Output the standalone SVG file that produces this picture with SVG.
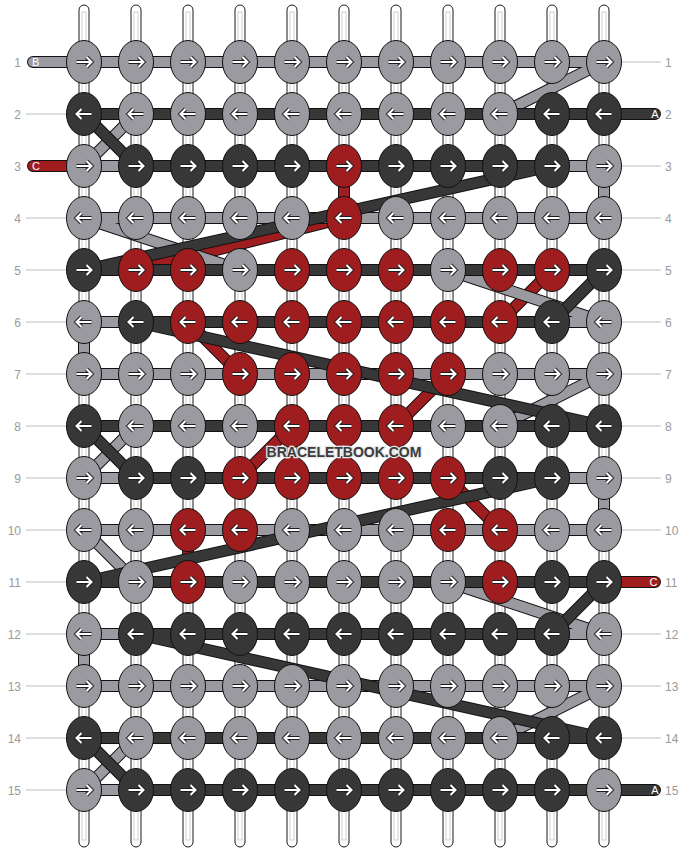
<svg xmlns="http://www.w3.org/2000/svg" xmlns:xlink="http://www.w3.org/1999/xlink" width="688" height="852" viewBox="0 0 688 852">
<style>
.s{fill:#fff;stroke:#1a1a1a;stroke-width:1}
.si{fill:#fff;stroke:#c4c4c4;stroke-width:0.8}
.o{fill:none;stroke:#111;stroke-width:12;stroke-linejoin:round;stroke-linecap:round}
.t{fill:none;stroke-width:10;stroke-linejoin:round;stroke-linecap:round}
.tA{stroke:#373737}.tB{stroke:#9b9aa0}.tC{stroke:#9f1c1f}
.kn{stroke:#111;stroke-width:1}
.L{fill:#9b9aa0}.D{fill:#373737}.X{fill:#9f1c1f}
.ao{fill:none;stroke:#1e1e1e;stroke-width:4;stroke-linejoin:miter}
.ai{fill:none;stroke:#fff;stroke-width:2.1;stroke-linejoin:miter}
.num{font-family:"Liberation Sans",Arial,sans-serif;font-size:12px;fill:#9a9a9a}
.ln{stroke:#bdbdbd;stroke-width:1}
.lab{font-family:"Liberation Sans",Arial,sans-serif;font-size:11px;fill:#fff}
.wm{font-family:"Liberation Sans",Arial,sans-serif;font-size:14px;font-weight:bold;fill:#3c3c3c;stroke:#e8e8e8;stroke-width:2.5;paint-order:stroke}
</style>
<defs>
<g id="ar"><path class="ao" d="M-7.5,0H7M2.5,-5L7.5,0L2.5,5"/><path class="ai" d="M-7.5,0H7M2.5,-5L7.5,0L2.5,5"/></g>
<g id="al"><path class="ao" d="M7.5,0H-7M-2.5,-5L-7.5,0L-2.5,5"/><path class="ai" d="M7.5,0H-7M-2.5,-5L-7.5,0L-2.5,5"/></g>
<g id="LR"><ellipse class="kn L" rx="17.5" ry="21.5"/><use href="#ar"/></g>
<g id="LL"><ellipse class="kn L" rx="17.5" ry="21.5"/><use href="#al"/></g>
<g id="DR"><ellipse class="kn D" rx="17.5" ry="21.5"/><use href="#ar"/></g>
<g id="DL"><ellipse class="kn D" rx="17.5" ry="21.5"/><use href="#al"/></g>
<g id="XR"><ellipse class="kn X" rx="17.5" ry="21.5"/><use href="#ar"/></g>
<g id="XL"><ellipse class="kn X" rx="17.5" ry="21.5"/><use href="#al"/></g>
</defs>
<rect width="688" height="852" fill="#fff"/>
<g id="strands">
<rect class="s" x="79" y="5" width="10" height="842" rx="5"/><rect class="si" x="82" y="12" width="4" height="828"/>
<rect class="s" x="131" y="5" width="10" height="842" rx="5"/><rect class="si" x="134" y="12" width="4" height="828"/>
<rect class="s" x="183" y="5" width="10" height="842" rx="5"/><rect class="si" x="186" y="12" width="4" height="828"/>
<rect class="s" x="235" y="5" width="10" height="842" rx="5"/><rect class="si" x="238" y="12" width="4" height="828"/>
<rect class="s" x="287" y="5" width="10" height="842" rx="5"/><rect class="si" x="290" y="12" width="4" height="828"/>
<rect class="s" x="339" y="5" width="10" height="842" rx="5"/><rect class="si" x="342" y="12" width="4" height="828"/>
<rect class="s" x="391" y="5" width="10" height="842" rx="5"/><rect class="si" x="394" y="12" width="4" height="828"/>
<rect class="s" x="443" y="5" width="10" height="842" rx="5"/><rect class="si" x="446" y="12" width="4" height="828"/>
<rect class="s" x="495" y="5" width="10" height="842" rx="5"/><rect class="si" x="498" y="12" width="4" height="828"/>
<rect class="s" x="547" y="5" width="10" height="842" rx="5"/><rect class="si" x="550" y="12" width="4" height="828"/>
<rect class="s" x="599" y="5" width="10" height="842" rx="5"/><rect class="si" x="602" y="12" width="4" height="828"/>
</g>
<g id="labels">
<g class="ln">
<line x1="26" y1="114" x2="67" y2="114"/><line x1="26" y1="218" x2="67" y2="218"/><line x1="26" y1="270" x2="67" y2="270"/><line x1="26" y1="322" x2="67" y2="322"/><line x1="26" y1="374" x2="67" y2="374"/><line x1="26" y1="426" x2="67" y2="426"/><line x1="26" y1="478" x2="67" y2="478"/><line x1="26" y1="530" x2="67" y2="530"/><line x1="26" y1="582" x2="67" y2="582"/><line x1="26" y1="634" x2="67" y2="634"/><line x1="26" y1="686" x2="67" y2="686"/><line x1="26" y1="738" x2="67" y2="738"/><line x1="26" y1="790" x2="67" y2="790"/>
<line x1="621" y1="62" x2="661" y2="62"/><line x1="621" y1="166" x2="661" y2="166"/><line x1="621" y1="218" x2="661" y2="218"/><line x1="621" y1="270" x2="661" y2="270"/><line x1="621" y1="322" x2="661" y2="322"/><line x1="621" y1="374" x2="661" y2="374"/><line x1="621" y1="426" x2="661" y2="426"/><line x1="621" y1="478" x2="661" y2="478"/><line x1="621" y1="530" x2="661" y2="530"/><line x1="621" y1="634" x2="661" y2="634"/><line x1="621" y1="686" x2="661" y2="686"/><line x1="621" y1="738" x2="661" y2="738"/>
</g>
<g class="num" text-anchor="end">
<text x="21" y="66.5">1</text><text x="21" y="118.5">2</text><text x="21" y="170.5">3</text><text x="21" y="222.5">4</text><text x="21" y="274.5">5</text><text x="21" y="326.5">6</text><text x="21" y="378.5">7</text><text x="21" y="430.5">8</text><text x="21" y="482.5">9</text><text x="21" y="534.5">10</text><text x="21" y="586.5">11</text><text x="21" y="638.5">12</text><text x="21" y="690.5">13</text><text x="21" y="742.5">14</text><text x="21" y="794.5">15</text>
</g>
<g class="num">
<text x="665" y="66.5">1</text><text x="665" y="118.5">2</text><text x="665" y="170.5">3</text><text x="665" y="222.5">4</text><text x="665" y="274.5">5</text><text x="665" y="326.5">6</text><text x="665" y="378.5">7</text><text x="665" y="430.5">8</text><text x="665" y="482.5">9</text><text x="665" y="534.5">10</text><text x="665" y="586.5">11</text><text x="665" y="638.5">12</text><text x="665" y="690.5">13</text><text x="665" y="742.5">14</text><text x="665" y="794.5">15</text>
</g>
</g>
<g id="connectors">
<path class="o" d="M33,166 L344,166 L344,218 L136,270 L552,270 L500,322 L188,322 L240,374 L448,374 L396,426 L292,426 L240,478 L448,478 L500,530 L188,530 L188,582 L655,582"/>
<path class="t tC" d="M33,166 L344,166 L344,218 L136,270 L552,270 L500,322 L188,322 L240,374 L448,374 L396,426 L292,426 L240,478 L448,478 L500,530 L188,530 L188,582 L655,582"/>
<path class="o" d="M33,62 L604,62 L500,114 L136,114 L84,166 L604,166 L604,218 L84,218 L240,270 L448,270 L604,322 L84,322 L84,374 L604,374 L500,426 L136,426 L84,478 L604,478 L604,530 L84,530 L136,582 L448,582 L604,634 L84,634 L84,686 L604,686 L500,738 L136,738 L84,790 L604,790"/>
<path class="t tB" d="M33,62 L604,62 L500,114 L136,114 L84,166 L604,166 L604,218 L84,218 L240,270 L448,270 L604,322 L84,322 L84,374 L604,374 L500,426 L136,426 L84,478 L604,478 L604,530 L84,530 L136,582 L448,582 L604,634 L84,634 L84,686 L604,686 L500,738 L136,738 L84,790 L604,790"/>
<path class="o" d="M655,114 L84,114 L136,166 L552,166 L84,270 L604,270 L552,322 L136,322 L604,426 L84,426 L136,478 L552,478 L84,582 L604,582 L552,634 L136,634 L604,738 L84,738 L136,790 L655,790"/>
<path class="t tA" d="M655,114 L84,114 L136,166 L552,166 L84,270 L604,270 L552,322 L136,322 L604,426 L84,426 L136,478 L552,478 L84,582 L604,582 L552,634 L136,634 L604,738 L84,738 L136,790 L655,790"/>
<text class="lab" x="32" y="66">B</text>
<text class="lab" x="32" y="170">C</text>
<text class="lab" x="658.5" y="118" text-anchor="end">A</text>
<text class="lab" x="657.5" y="586" text-anchor="end">C</text>
<text class="lab" x="658.5" y="794" text-anchor="end">A</text>
</g>
<g id="knots">
<g id="k1-1" transform="translate(84,62)"><use href="#LR"/></g><g id="k1-2" transform="translate(136,62)"><use href="#LR"/></g><g id="k1-3" transform="translate(188,62)"><use href="#LR"/></g><g id="k1-4" transform="translate(240,62)"><use href="#LR"/></g><g id="k1-5" transform="translate(292,62)"><use href="#LR"/></g><g id="k1-6" transform="translate(344,62)"><use href="#LR"/></g><g id="k1-7" transform="translate(396,62)"><use href="#LR"/></g><g id="k1-8" transform="translate(448,62)"><use href="#LR"/></g><g id="k1-9" transform="translate(500,62)"><use href="#LR"/></g><g id="k1-10" transform="translate(552,62)"><use href="#LR"/></g><g id="k1-11" transform="translate(604,62)"><use href="#LR"/></g>
<g id="k2-1" transform="translate(84,114)"><use href="#DL"/></g><g id="k2-2" transform="translate(136,114)"><use href="#LL"/></g><g id="k2-3" transform="translate(188,114)"><use href="#LL"/></g><g id="k2-4" transform="translate(240,114)"><use href="#LL"/></g><g id="k2-5" transform="translate(292,114)"><use href="#LL"/></g><g id="k2-6" transform="translate(344,114)"><use href="#LL"/></g><g id="k2-7" transform="translate(396,114)"><use href="#LL"/></g><g id="k2-8" transform="translate(448,114)"><use href="#LL"/></g><g id="k2-9" transform="translate(500,114)"><use href="#LL"/></g><g id="k2-10" transform="translate(552,114)"><use href="#DL"/></g><g id="k2-11" transform="translate(604,114)"><use href="#DL"/></g>
<g id="k3-1" transform="translate(84,166)"><use href="#LR"/></g><g id="k3-2" transform="translate(136,166)"><use href="#DR"/></g><g id="k3-3" transform="translate(188,166)"><use href="#DR"/></g><g id="k3-4" transform="translate(240,166)"><use href="#DR"/></g><g id="k3-5" transform="translate(292,166)"><use href="#DR"/></g><g id="k3-6" transform="translate(344,166)"><use href="#XR"/></g><g id="k3-7" transform="translate(396,166)"><use href="#DR"/></g><g id="k3-8" transform="translate(448,166)"><use href="#DR"/></g><g id="k3-9" transform="translate(500,166)"><use href="#DR"/></g><g id="k3-10" transform="translate(552,166)"><use href="#DR"/></g><g id="k3-11" transform="translate(604,166)"><use href="#LR"/></g>
<g id="k4-1" transform="translate(84,218)"><use href="#LL"/></g><g id="k4-2" transform="translate(136,218)"><use href="#LL"/></g><g id="k4-3" transform="translate(188,218)"><use href="#LL"/></g><g id="k4-4" transform="translate(240,218)"><use href="#LL"/></g><g id="k4-5" transform="translate(292,218)"><use href="#LL"/></g><g id="k4-6" transform="translate(344,218)"><use href="#XL"/></g><g id="k4-7" transform="translate(396,218)"><use href="#LL"/></g><g id="k4-8" transform="translate(448,218)"><use href="#LL"/></g><g id="k4-9" transform="translate(500,218)"><use href="#LL"/></g><g id="k4-10" transform="translate(552,218)"><use href="#LL"/></g><g id="k4-11" transform="translate(604,218)"><use href="#LL"/></g>
<g id="k5-1" transform="translate(84,270)"><use href="#DR"/></g><g id="k5-2" transform="translate(136,270)"><use href="#XR"/></g><g id="k5-3" transform="translate(188,270)"><use href="#XR"/></g><g id="k5-4" transform="translate(240,270)"><use href="#LR"/></g><g id="k5-5" transform="translate(292,270)"><use href="#XR"/></g><g id="k5-6" transform="translate(344,270)"><use href="#XR"/></g><g id="k5-7" transform="translate(396,270)"><use href="#XR"/></g><g id="k5-8" transform="translate(448,270)"><use href="#LR"/></g><g id="k5-9" transform="translate(500,270)"><use href="#XR"/></g><g id="k5-10" transform="translate(552,270)"><use href="#XR"/></g><g id="k5-11" transform="translate(604,270)"><use href="#DR"/></g>
<g id="k6-1" transform="translate(84,322)"><use href="#LL"/></g><g id="k6-2" transform="translate(136,322)"><use href="#DL"/></g><g id="k6-3" transform="translate(188,322)"><use href="#XL"/></g><g id="k6-4" transform="translate(240,322)"><use href="#XL"/></g><g id="k6-5" transform="translate(292,322)"><use href="#XL"/></g><g id="k6-6" transform="translate(344,322)"><use href="#XL"/></g><g id="k6-7" transform="translate(396,322)"><use href="#XL"/></g><g id="k6-8" transform="translate(448,322)"><use href="#XL"/></g><g id="k6-9" transform="translate(500,322)"><use href="#XL"/></g><g id="k6-10" transform="translate(552,322)"><use href="#DL"/></g><g id="k6-11" transform="translate(604,322)"><use href="#LL"/></g>
<g id="k7-1" transform="translate(84,374)"><use href="#LR"/></g><g id="k7-2" transform="translate(136,374)"><use href="#LR"/></g><g id="k7-3" transform="translate(188,374)"><use href="#LR"/></g><g id="k7-4" transform="translate(240,374)"><use href="#XR"/></g><g id="k7-5" transform="translate(292,374)"><use href="#XR"/></g><g id="k7-6" transform="translate(344,374)"><use href="#XR"/></g><g id="k7-7" transform="translate(396,374)"><use href="#XR"/></g><g id="k7-8" transform="translate(448,374)"><use href="#XR"/></g><g id="k7-9" transform="translate(500,374)"><use href="#LR"/></g><g id="k7-10" transform="translate(552,374)"><use href="#LR"/></g><g id="k7-11" transform="translate(604,374)"><use href="#LR"/></g>
<g id="k8-1" transform="translate(84,426)"><use href="#DL"/></g><g id="k8-2" transform="translate(136,426)"><use href="#LL"/></g><g id="k8-3" transform="translate(188,426)"><use href="#LL"/></g><g id="k8-4" transform="translate(240,426)"><use href="#LL"/></g><g id="k8-5" transform="translate(292,426)"><use href="#XL"/></g><g id="k8-6" transform="translate(344,426)"><use href="#XL"/></g><g id="k8-7" transform="translate(396,426)"><use href="#XL"/></g><g id="k8-8" transform="translate(448,426)"><use href="#LL"/></g><g id="k8-9" transform="translate(500,426)"><use href="#LL"/></g><g id="k8-10" transform="translate(552,426)"><use href="#DL"/></g><g id="k8-11" transform="translate(604,426)"><use href="#DL"/></g>
<g id="k9-1" transform="translate(84,478)"><use href="#LR"/></g><g id="k9-2" transform="translate(136,478)"><use href="#DR"/></g><g id="k9-3" transform="translate(188,478)"><use href="#DR"/></g><g id="k9-4" transform="translate(240,478)"><use href="#XR"/></g><g id="k9-5" transform="translate(292,478)"><use href="#XR"/></g><g id="k9-6" transform="translate(344,478)"><use href="#XR"/></g><g id="k9-7" transform="translate(396,478)"><use href="#XR"/></g><g id="k9-8" transform="translate(448,478)"><use href="#XR"/></g><g id="k9-9" transform="translate(500,478)"><use href="#DR"/></g><g id="k9-10" transform="translate(552,478)"><use href="#DR"/></g><g id="k9-11" transform="translate(604,478)"><use href="#LR"/></g>
<g id="k10-1" transform="translate(84,530)"><use href="#LL"/></g><g id="k10-2" transform="translate(136,530)"><use href="#LL"/></g><g id="k10-3" transform="translate(188,530)"><use href="#XL"/></g><g id="k10-4" transform="translate(240,530)"><use href="#XL"/></g><g id="k10-5" transform="translate(292,530)"><use href="#LL"/></g><g id="k10-6" transform="translate(344,530)"><use href="#LL"/></g><g id="k10-7" transform="translate(396,530)"><use href="#LL"/></g><g id="k10-8" transform="translate(448,530)"><use href="#XL"/></g><g id="k10-9" transform="translate(500,530)"><use href="#XL"/></g><g id="k10-10" transform="translate(552,530)"><use href="#LL"/></g><g id="k10-11" transform="translate(604,530)"><use href="#LL"/></g>
<g id="k11-1" transform="translate(84,582)"><use href="#DR"/></g><g id="k11-2" transform="translate(136,582)"><use href="#LR"/></g><g id="k11-3" transform="translate(188,582)"><use href="#XR"/></g><g id="k11-4" transform="translate(240,582)"><use href="#LR"/></g><g id="k11-5" transform="translate(292,582)"><use href="#LR"/></g><g id="k11-6" transform="translate(344,582)"><use href="#LR"/></g><g id="k11-7" transform="translate(396,582)"><use href="#LR"/></g><g id="k11-8" transform="translate(448,582)"><use href="#LR"/></g><g id="k11-9" transform="translate(500,582)"><use href="#XR"/></g><g id="k11-10" transform="translate(552,582)"><use href="#DR"/></g><g id="k11-11" transform="translate(604,582)"><use href="#DR"/></g>
<g id="k12-1" transform="translate(84,634)"><use href="#LL"/></g><g id="k12-2" transform="translate(136,634)"><use href="#DL"/></g><g id="k12-3" transform="translate(188,634)"><use href="#DL"/></g><g id="k12-4" transform="translate(240,634)"><use href="#DL"/></g><g id="k12-5" transform="translate(292,634)"><use href="#DL"/></g><g id="k12-6" transform="translate(344,634)"><use href="#DL"/></g><g id="k12-7" transform="translate(396,634)"><use href="#DL"/></g><g id="k12-8" transform="translate(448,634)"><use href="#DL"/></g><g id="k12-9" transform="translate(500,634)"><use href="#DL"/></g><g id="k12-10" transform="translate(552,634)"><use href="#DL"/></g><g id="k12-11" transform="translate(604,634)"><use href="#LL"/></g>
<g id="k13-1" transform="translate(84,686)"><use href="#LR"/></g><g id="k13-2" transform="translate(136,686)"><use href="#LR"/></g><g id="k13-3" transform="translate(188,686)"><use href="#LR"/></g><g id="k13-4" transform="translate(240,686)"><use href="#LR"/></g><g id="k13-5" transform="translate(292,686)"><use href="#LR"/></g><g id="k13-6" transform="translate(344,686)"><use href="#LR"/></g><g id="k13-7" transform="translate(396,686)"><use href="#LR"/></g><g id="k13-8" transform="translate(448,686)"><use href="#LR"/></g><g id="k13-9" transform="translate(500,686)"><use href="#LR"/></g><g id="k13-10" transform="translate(552,686)"><use href="#LR"/></g><g id="k13-11" transform="translate(604,686)"><use href="#LR"/></g>
<g id="k14-1" transform="translate(84,738)"><use href="#DL"/></g><g id="k14-2" transform="translate(136,738)"><use href="#LL"/></g><g id="k14-3" transform="translate(188,738)"><use href="#LL"/></g><g id="k14-4" transform="translate(240,738)"><use href="#LL"/></g><g id="k14-5" transform="translate(292,738)"><use href="#LL"/></g><g id="k14-6" transform="translate(344,738)"><use href="#LL"/></g><g id="k14-7" transform="translate(396,738)"><use href="#LL"/></g><g id="k14-8" transform="translate(448,738)"><use href="#LL"/></g><g id="k14-9" transform="translate(500,738)"><use href="#LL"/></g><g id="k14-10" transform="translate(552,738)"><use href="#DL"/></g><g id="k14-11" transform="translate(604,738)"><use href="#DL"/></g>
<g id="k15-1" transform="translate(84,790)"><use href="#LR"/></g><g id="k15-2" transform="translate(136,790)"><use href="#DR"/></g><g id="k15-3" transform="translate(188,790)"><use href="#DR"/></g><g id="k15-4" transform="translate(240,790)"><use href="#DR"/></g><g id="k15-5" transform="translate(292,790)"><use href="#DR"/></g><g id="k15-6" transform="translate(344,790)"><use href="#DR"/></g><g id="k15-7" transform="translate(396,790)"><use href="#DR"/></g><g id="k15-8" transform="translate(448,790)"><use href="#DR"/></g><g id="k15-9" transform="translate(500,790)"><use href="#DR"/></g><g id="k15-10" transform="translate(552,790)"><use href="#DR"/></g><g id="k15-11" transform="translate(604,790)"><use href="#LR"/></g>
</g>
<text class="wm" x="344" y="457" text-anchor="middle">BRACELETBOOK.COM</text>
</svg>
